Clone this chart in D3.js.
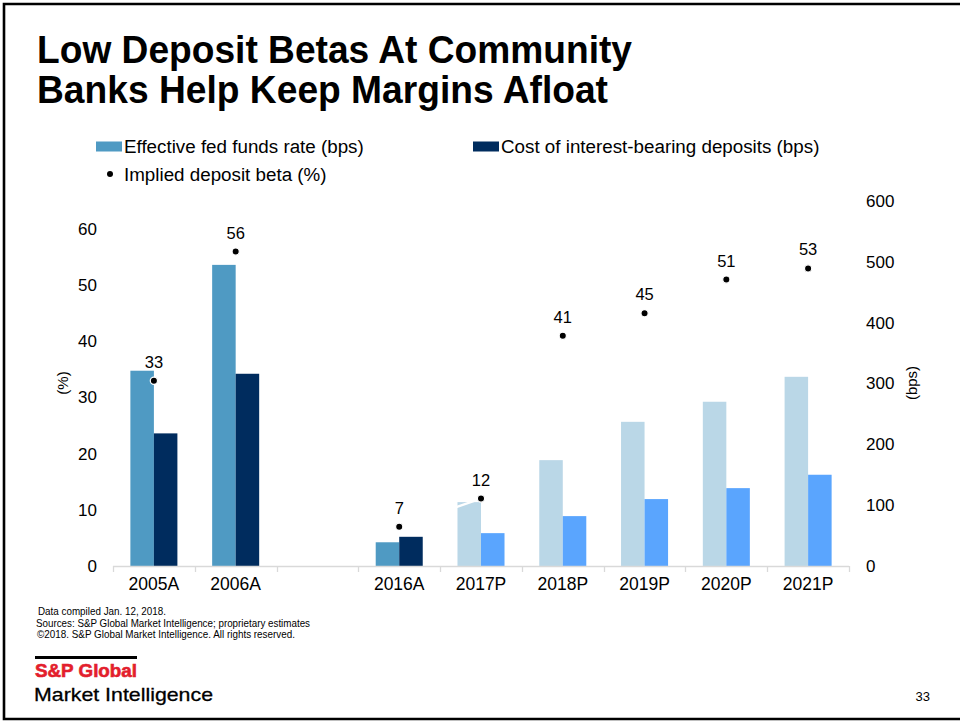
<!DOCTYPE html>
<html>
<head>
<meta charset="utf-8">
<script src="https://cdn.jsdelivr.net/npm/d3@7"></script>
<style>
  html, body { margin: 0; padding: 0; background: #fff; }
  svg { display: block; font-family: "Liberation Sans", Arial, sans-serif; }
</style>
</head>
<body>
<svg id="chart" width="960" height="721"></svg>
<script>
// Categories along the x axis ("" is the empty slot between 2006 and 2016)
const categories = ["2005A", "2006A", "", "2016A", "2017P", "2018P", "2019P", "2020P", "2021P"];
// Effective fed funds rate (bps)
const fedFunds = [321, 495, null, 39, 105, 174, 237, 270, 311];
// Cost of interest-bearing deposits (bps)
const depositCost = [218, 316, null, 48, 54, 82, 110, 128, 150];
// Implied deposit beta (%)
const depositBeta = [33, 56, null, 7, 12, 41, 45, 51, 53];
// Axis ticks
const leftTicks = [0, 10, 20, 30, 40, 50, 60];
const rightTicks = [0, 100, 200, 300, 400, 500, 600];

const svg = d3.select("#chart");

// Page frame
svg.append("path")
  .attr("d", "M960,4 L4,4 L4,719 L960,719")
  .attr("fill", "none").attr("stroke", "#000").attr("stroke-width", 2.6);

// Title
const title = svg.append("g").attr("font-weight", "bold").attr("font-size", 39).attr("fill", "#000");
title.append("text").attr("x", 37).attr("y", 63)
  .attr("textLength", 595).attr("lengthAdjust", "spacingAndGlyphs")
  .text("Low Deposit Betas At Community");
title.append("text").attr("x", 37).attr("y", 103)
  .attr("textLength", 571).attr("lengthAdjust", "spacingAndGlyphs")
  .text("Banks Help Keep Margins Afloat");

// Colours
const colActualFF = "#4F9AC3", colActualDep = "#002C5E";
const colProjFF = "#BAD7E7", colProjDep = "#5AA5FE";
const isProjected = c => c.endsWith("P");

// Legend
const legend = svg.append("g").attr("font-size", 18.8).attr("fill", "#000");
legend.append("rect").attr("x", 96).attr("y", 141.5).attr("width", 26).attr("height", 10).attr("fill", colActualFF);
legend.append("text").attr("x", 124).attr("y", 153).text("Effective fed funds rate (bps)");
legend.append("rect").attr("x", 473).attr("y", 141.5).attr("width", 26).attr("height", 10).attr("fill", colActualDep);
legend.append("text").attr("x", 501).attr("y", 153).text("Cost of interest-bearing deposits (bps)");
legend.append("circle").attr("cx", 110).attr("cy", 174).attr("r", 3).attr("fill", "#000");
legend.append("text").attr("x", 124).attr("y", 181).text("Implied deposit beta (%)");

// Scales
const plotLeft = 113, plotRight = 849, plotBottom = 566, plotTop = 201;
const x = d3.scaleBand().domain(categories.map((c, i) => i)).range([plotLeft, plotRight]).padding(0);
const bw = x.bandwidth();
const xSub = d3.scaleBand().domain(["ff", "dep"]).range([bw * 0.2125, bw * 0.7875]).padding(0);
const yLeft = d3.scaleLinear().domain([0, 65]).range([plotBottom, plotTop]);
const yRight = d3.scaleLinear().domain([0, 600]).range([plotBottom, plotTop]);

// Bars
const rows = categories.map((c, i) => ({ i, c, ff: fedFunds[i], dep: depositCost[i], beta: depositBeta[i] }))
  .filter(d => d.ff !== null);

const bars = svg.append("g");
rows.forEach(d => {
  bars.append("rect")
    .attr("x", x(d.i) + xSub("ff")).attr("width", xSub.bandwidth())
    .attr("y", yRight(d.ff)).attr("height", yRight(0) - yRight(d.ff))
    .attr("fill", isProjected(d.c) ? colProjFF : colActualFF);
  bars.append("rect")
    .attr("x", x(d.i) + xSub("dep")).attr("width", xSub.bandwidth())
    .attr("y", yRight(d.dep)).attr("height", yRight(0) - yRight(d.dep))
    .attr("fill", isProjected(d.c) ? colProjDep : colActualDep);
});

// X axis: baseline, boundary ticks and labels
const axisCol = "#D9D9D9";
const xAxis = svg.append("g");
xAxis.append("line").attr("x1", plotLeft).attr("x2", plotRight)
  .attr("y1", plotBottom + 0.5).attr("y2", plotBottom + 0.5)
  .attr("stroke", axisCol).attr("stroke-width", 1.3);
const bounds = categories.map((c, i) => x(i)).concat([plotRight]);
xAxis.selectAll("line.tick").data(bounds).join("line")
  .attr("class", "tick")
  .attr("x1", d => Math.round(d) + 0.5).attr("x2", d => Math.round(d) + 0.5)
  .attr("y1", plotBottom).attr("y2", plotBottom + 6)
  .attr("stroke", axisCol).attr("stroke-width", 1.3);
xAxis.selectAll("text").data(categories.map((c, i) => ({ c, i }))).join("text")
  .attr("x", d => x(d.i) + bw / 2).attr("y", 590)
  .attr("text-anchor", "middle").attr("font-size", 17.5).attr("fill", "#000")
  .text(d => d.c);

// Left axis (%)
const leftAxis = svg.append("g").attr("transform", `translate(${plotLeft - 16},0)`)
  .call(d3.axisLeft(yLeft).tickValues(leftTicks).tickSize(0).tickPadding(0).tickFormat(d3.format("d")));
leftAxis.select(".domain").remove();
leftAxis.selectAll("text").attr("font-size", 17).attr("font-family", "Liberation Sans, Arial, sans-serif").attr("fill", "#000");
svg.append("text").attr("transform", "translate(68,383) rotate(-90)")
  .attr("text-anchor", "middle").attr("font-size", 15).attr("fill", "#000").text("(%)");

// Right axis (bps)
const rightAxis = svg.append("g").attr("transform", `translate(866,0)`)
  .call(d3.axisRight(yRight).tickValues(rightTicks).tickSize(0).tickPadding(0).tickFormat(d3.format("d")));
rightAxis.select(".domain").remove();
rightAxis.selectAll("text").attr("font-size", 17).attr("font-family", "Liberation Sans, Arial, sans-serif").attr("fill", "#000");
svg.append("text").attr("transform", "translate(917,383) rotate(-90)")
  .attr("text-anchor", "middle").attr("font-size", 15).attr("fill", "#000").text("(bps)");

// Implied deposit beta: connecting line (white), dots and value labels
const betaPts = rows.filter(d => d.i >= 3);
svg.append("path")
  .attr("d", d3.line().x(d => x(d.i) + bw / 2).y(d => yLeft(d.beta))(betaPts))
  .attr("fill", "none").attr("stroke", "#fff").attr("stroke-width", 2.4);
const dots = svg.append("g");
dots.selectAll("circle").data(rows).join("circle")
  .attr("cx", d => x(d.i) + bw / 2).attr("cy", d => yLeft(d.beta)).attr("r", 3.6)
  .attr("fill", "#000").attr("stroke", "#fff").attr("stroke-width", 1.2);
dots.selectAll("text").data(rows).join("text")
  .attr("x", d => x(d.i) + bw / 2).attr("y", d => yLeft(d.beta) - 13)
  .attr("text-anchor", "middle").attr("font-size", 16.5).attr("fill", "#000")
  .text(d => d.beta);

// Source notes
const notes = svg.append("g").attr("font-family", "'Liberation Sans Narrow', 'Arial Narrow', 'Liberation Sans', sans-serif")
  .attr("font-size", 11).attr("fill", "#000");
notes.append("text").attr("x", 38).attr("y", 615).attr("textLength", 128).attr("lengthAdjust", "spacingAndGlyphs")
  .text("Data compiled Jan. 12, 2018.");
notes.append("text").attr("x", 36).attr("y", 627).attr("textLength", 274).attr("lengthAdjust", "spacingAndGlyphs")
  .text("Sources: S&P Global Market Intelligence; proprietary estimates");
notes.append("text").attr("x", 37).attr("y", 638).attr("textLength", 258).attr("lengthAdjust", "spacingAndGlyphs")
  .text("\u00A92018. S&P Global Market Intelligence. All rights reserved.");

// Brand mark
svg.append("rect").attr("x", 35).attr("y", 656).attr("width", 102).attr("height", 3).attr("fill", "#000");
svg.append("text").attr("x", 35).attr("y", 677).attr("font-size", 18).attr("font-weight", "bold")
  .attr("fill", "#E31E2D").attr("textLength", 102).attr("lengthAdjust", "spacingAndGlyphs")
  .attr("stroke", "#E31E2D").attr("stroke-width", 0.6)
  .text("S&P Global");
svg.append("text").attr("x", 34).attr("y", 701).attr("font-size", 19)
  .attr("fill", "#000").attr("textLength", 179).attr("lengthAdjust", "spacingAndGlyphs")
  .attr("stroke", "#000").attr("stroke-width", 0.3)
  .text("Market Intelligence");

// Page number
svg.append("text").attr("x", 930).attr("y", 701).attr("text-anchor", "end")
  .attr("font-size", 13).attr("fill", "#000").text("33");
</script>
</body>
</html>
